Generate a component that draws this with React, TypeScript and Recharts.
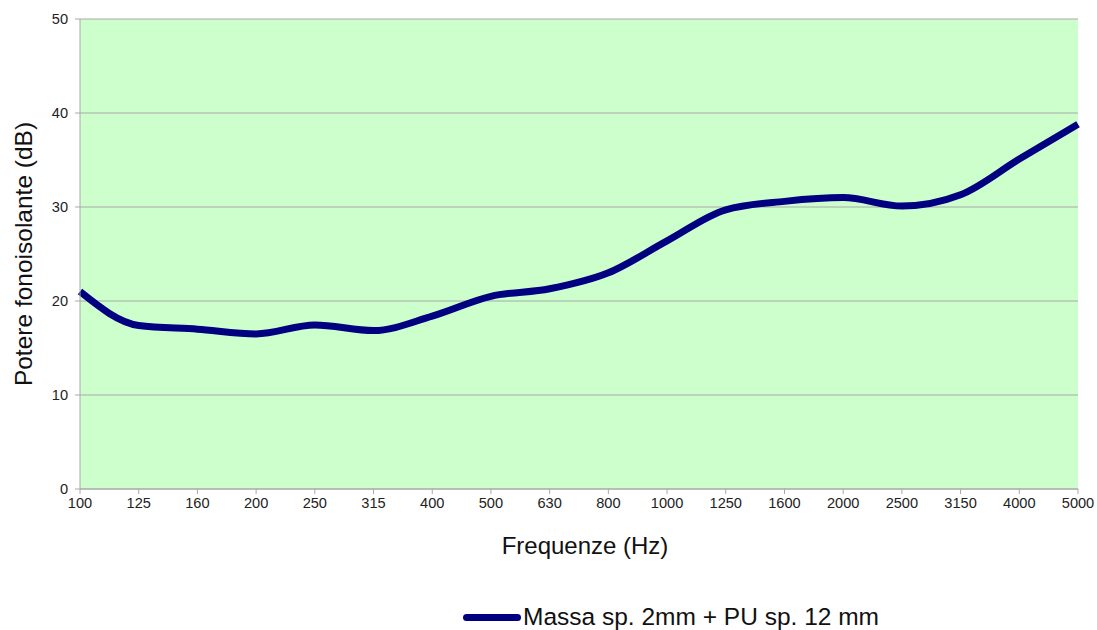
import React from "react";
import { LineChart, Line, CartesianGrid, XAxis, YAxis, Label } from "recharts";

// ─── Data ─────────────────────────────────────────────────────────────────────

const frequencies = [
  "100", "125", "160", "200", "250", "315", "400", "500", "630",
  "800", "1000", "1250", "1600", "2000", "2500", "3150", "4000", "5000",
];
const soundReduction = [
  21.0, 17.4, 17.0, 16.5, 17.45, 16.85, 18.4, 20.5, 21.3,
  23.0, 26.4, 29.7, 30.6, 31.0, 30.1, 31.3, 35.1, 38.8,
];
const yTicks = [0, 10, 20, 30, 40, 50];

const SERIES_NAME = "Massa sp. 2mm + PU sp. 12 mm";

const data = frequencies.map((f, i) => ({ freq: f, value: soundReduction[i] }));

// ─── Styles ───────────────────────────────────────────────────────────────────

const FONT = "'Liberation Sans', Arial, sans-serif";
const NAVY = "#000080";
const tickStyle = { fill: "#222", fontSize: 14.6, fontFamily: FONT };

export default function App() {
  return (
    <div style={{ position: "absolute", left: 0, top: 0, width: 1097, height: 630, background: "#fff" }}>
      <LineChart
        width={1097}
        height={630}
        data={data}
        margin={{ top: 19, right: 19, bottom: 0, left: 0 }}
      >
        <CartesianGrid
          horizontal
          vertical={false}
          stroke="#a8a8a8"
          fill="#ccffcc"
          fillOpacity={1}
        />
        <XAxis
          dataKey="freq"
          interval={0}
          tick={tickStyle}
          fontSize={14.6}
          tickSize={5}
          tickMargin={4}
          stroke="#a8a8a8"
          height={141}
        >
          <Label
            value="Frequenze (Hz)"
            position="insideTop"
            offset={48}
            dx={6}
            fontSize={24}
            fontFamily={FONT}
            fill="#111"
          />
        </XAxis>
        <YAxis
          domain={[0, 50]}
          ticks={yTicks}
          tick={tickStyle}
          fontSize={14.6}
          tickSize={5}
          tickMargin={7}
          stroke="#a8a8a8"
          width={80}
        >
          <Label
            value="Potere fonoisolante (dB)"
            angle={-90}
            position="insideLeft"
            offset={23}
            fontSize={24.5}
            fontFamily={FONT}
            fill="#111"
            style={{ textAnchor: "middle" }}
          />
        </YAxis>
        <Line
          type="monotone"
          dataKey="value"
          stroke={NAVY}
          strokeWidth={7}
          dot={false}
          isAnimationActive={false}
        />
      </LineChart>

      {/* legend */}
      <div style={{ position: "absolute", left: 463, top: 602, display: "flex", alignItems: "center", fontFamily: FONT, fontSize: 24.5, lineHeight: "30px", color: "#111" }}>
        <span style={{ display: "inline-block", width: 58, height: 7, background: NAVY, borderRadius: 4, marginRight: 2 }} />
        <span>{SERIES_NAME}</span>
      </div>
    </div>
  );
}
